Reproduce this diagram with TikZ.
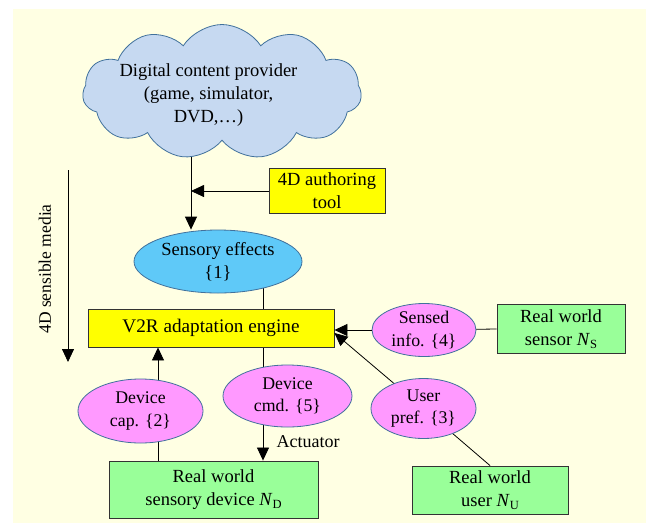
\documentclass[tikz,border=0pt]{standalone}
\usepackage{fontspec}
\setmainfont{Liberation Serif}
\usetikzlibrary{shapes.geometric,shapes.symbols,arrows.meta}
\pgfdeclarelayer{paper}
\pgfdeclarelayer{wires}
\pgfsetlayers{paper,wires,main}
\definecolor{paperbg}{HTML}{FFFFE3}
\definecolor{cloudfill}{HTML}{C6D9F1}
\definecolor{edgeblue}{HTML}{41719C}
\definecolor{skyfill}{HTML}{5FC9F8}
\definecolor{pinkfill}{HTML}{FF99FF}
\definecolor{greenfill}{HTML}{99FF99}
\definecolor{yellowfill}{HTML}{FFFF00}
\tikzset{
  txt/.style={font=\fontsize{18.5}{23}\selectfont, align=center},
  ybox/.style={txt, draw=black!80, fill=yellowfill, line width=0.9pt, inner sep=-10pt},
  gbox/.style={txt, draw=black!80, fill=greenfill, line width=0.9pt, inner sep=-10pt},
  pinkell/.style={txt, font=\fontsize{17.8}{22.5}\selectfont, ellipse, draw=edgeblue, fill=pinkfill, line width=0.8pt, inner sep=-10pt},
  skyell/.style={txt, ellipse, draw=edgeblue, fill=skyfill, line width=0.8pt, inner sep=-10pt},
  wire/.style={draw=black, line width=0.8pt},
  arr/.style={wire, -{Triangle[length=13pt,width=12pt]}},
}
\newcommand{\subN}[1]{\textit{N}\raisebox{-0.35ex}{\fontsize{12.5}{12.5}\selectfont #1}}
\begin{document}
\begin{tikzpicture}[x=1pt,y=-1pt]
\useasboundingbox (0,0) rectangle (646,523);
\begin{pgfonlayer}{paper}
  \fill[paperbg] (13,9) rectangle (646,523);
\end{pgfonlayer}

% content source
\node[cloud, cloud puffs=11, cloud puff arc=115, aspect=2.05, draw=edgeblue, fill=cloudfill,
      line width=0.8pt, minimum width=279pt, minimum height=135pt, inner sep=0pt] (cloud) at (222,92) {};
\node[txt] (cloudtxt) at (208.5,95) {Digital content provider\\(game, simulator,\\DVD,\ldots)};

% boxes
\node[ybox, minimum width=116pt, minimum height=45pt] (auth) at (327,191) {4D authoring\\tool};
\node[ybox, font=\fontsize{19.2}{23}\selectfont, minimum width=246pt, minimum height=38pt] (v2r) at (211,328) {V2R adaptation engine};
\node[gbox, minimum width=128pt, minimum height=49pt] (sensor) at (561,329) {Real world\\sensor \subN{S}};
\node[gbox, minimum width=156pt, minimum height=48pt] (ubox) at (490,490) {Real world\\user \subN{U}};
\node[gbox, minimum width=209pt, minimum height=57pt] (sdev) at (213.5,489.5) {Real world\\sensory device \subN{D}};

% ellipses
\node[skyell, minimum width=168pt, minimum height=63pt] (sens) at (218,261.5) {Sensory effects\\\{1\}};
\node[pinkell, minimum width=104pt, minimum height=53pt] (sensed) at (424,330) {Sensed\\info. \{4\}};
\node[pinkell, minimum width=105pt, minimum height=60pt] (upref) at (423.5,408.5) {User\\pref. \{3\}};
\node[pinkell, minimum width=129pt, minimum height=62pt] (dcmd) at (287.5,396) {Device\\cmd. \{5\}};
\node[pinkell, minimum width=125pt, minimum height=64pt] (dcap) at (140.5,411) {Device\\cap. \{2\}};

% side label
\coordinate (mtop) at (68,170);
\coordinate (mbot) at (68,362);
\node[txt, font=\fontsize{17.5}{20}\selectfont, rotate=90] (medialbl) at (45,269) {4D sensible media};
\node[txt, font=\fontsize{18}{20}\selectfont, anchor=west] (actlbl) at (273,442) {Actuator};

% guide columns for the straight connectors
\coordinate (colA) at (191,0);
\coordinate (colB) at (263,0);
\coordinate (colC) at (158,0);

\begin{pgfonlayer}{wires}
  \draw[arr] (cloud.center -| colA) -- (sens.north -| colA);
  \draw[wire] (v2r.north -| colB) -- (sens.center -| colB);
  \draw[wire] (v2r.south -| colB) -- (dcmd.center -| colB);
  \draw[arr] (dcmd.center -| colB) -- (sdev.north -| colB);
  \draw[arr] (dcap.center -| colC) -- (v2r.south -| colC);
  \draw[wire] (dcap.center -| colC) -- (sdev.north -| colC);
  \draw[wire] (sensor.west) -- (sensed.center);
  \draw[wire] (ubox.north) -- (upref.center);
\end{pgfonlayer}
\draw[arr] (auth.west) -- (auth.west -| colA);
\draw[arr] (sensed.west) -- (sensed.west -| v2r.east);
\draw[arr] (upref) -- ([yshift=-5pt]v2r.east);
\draw[arr] (mtop) -- (mbot);
\end{tikzpicture}
\end{document}
